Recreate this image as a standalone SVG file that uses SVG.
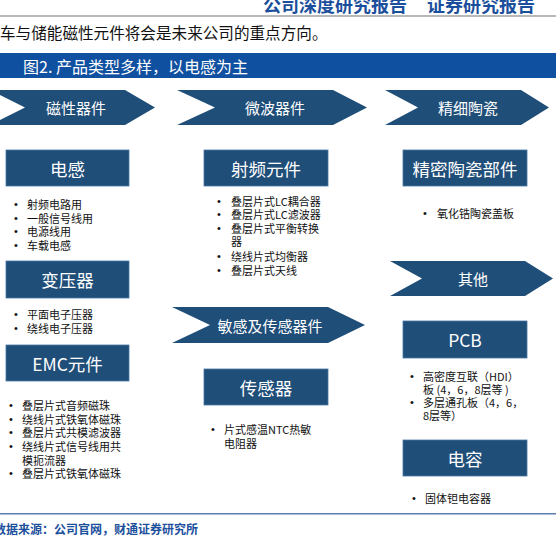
<svg xmlns="http://www.w3.org/2000/svg" width="556" height="544" viewBox="0 0 556 544">
<defs>
<style>
.cjk{font-family:"Noto Sans CJK SC","Noto Sans",sans-serif;}
.chev{fill:#1f4e79;}
.box{fill:#1f4e79;stroke:#4a78a6;stroke-width:0.8;}
.ct{font-family:"Noto Sans CJK SC","Noto Sans",sans-serif;fill:#fff;font-size:15px;text-anchor:middle;dominant-baseline:central;}
.bt{font-family:"Noto Sans CJK SC","Noto Sans",sans-serif;fill:#fff;font-size:17.5px;text-anchor:middle;dominant-baseline:central;}
.li{font-family:"Noto Sans CJK SC","Noto Sans",sans-serif;fill:#111;font-size:11px;dominant-baseline:central;}
.dot{font-family:"Liberation Sans",sans-serif;fill:#111;font-size:11px;dominant-baseline:central;}
</style>
</defs>
<rect width="556" height="544" fill="#fff"/>
<text x="263" y="12" class="cjk" font-size="18" font-weight="bold" fill="#1b4f9c">公司深度研究报告</text>
<text x="427" y="12" class="cjk" font-size="18" font-weight="bold" fill="#1b4f9c">证券研究报告</text>
<rect x="0" y="15" width="556" height="2" fill="#b8b8b8"/>
<text x="0" y="32" class="cjk" font-size="15.6" fill="#111" dominant-baseline="central">车与储能磁性元件将会是未来公司的重点方向。</text>
<rect x="0" y="53" width="556" height="25" fill="#0f50a0"/>
<text x="23" y="66" class="cjk" font-size="16" fill="#fff" dominant-baseline="central">图2. 产品类型多样，以电感为主</text>

<g id="cat-magnetic"><polygon class="chev" points="-10,90 125,90 155,107.5 125,125 -10,125 25,107.5"/><text class="ct" x="76" y="107.5">磁性器件</text></g>
<g id="cat-microwave"><polygon class="chev" points="177,90 333,90 367,107.5 333,125 177,125 215,107.5"/><text class="ct" x="275" y="107.5">微波器件</text></g>
<g id="cat-ceramic"><polygon class="chev" points="385,90 521,90 549,107.5 521,125 385,125 418,107.5"/><text class="ct" x="468" y="107.5">精细陶瓷</text></g>
<g id="cat-sensor"><polygon class="chev" points="172,307 328,307 365,325 328,343 172,343 210,325"/><text class="ct" x="270" y="325">敏感及传感器件</text></g>
<g id="cat-other"><polygon class="chev" points="390,261 525,261 553,278.5 525,296 390,296 422,278.5"/><text class="ct" x="473" y="278.5">其他</text></g>

<g id="inductor"><rect class="box" x="6" y="150" width="123" height="36"/><text class="bt" x="67.5" y="168">电感</text>
<text class="dot" x="14" y="204">•</text><text class="li" x="27" y="204">射频电路用</text>
<text class="dot" x="14" y="217.5">•</text><text class="li" x="27" y="217.5">一般信号线用</text>
<text class="dot" x="14" y="231">•</text><text class="li" x="27" y="231">电源线用</text>
<text class="dot" x="14" y="244.5">•</text><text class="li" x="27" y="244.5">车载电感</text></g>

<g id="transformer"><rect class="box" x="6" y="261" width="123" height="37"/><text class="bt" x="67.5" y="279.5">变压器</text>
<text class="dot" x="14" y="314">•</text><text class="li" x="27" y="314">平面电子压器</text>
<text class="dot" x="14" y="327.5">•</text><text class="li" x="27" y="327.5">绕线电子压器</text></g>

<g id="emc"><rect class="box" x="6" y="345" width="123" height="36"/><text class="bt" x="67.5" y="363">EMC元件</text>
<text class="dot" x="9" y="405">•</text><text class="li" x="22" y="405">叠层片式音频磁珠</text>
<text class="dot" x="9" y="418.5">•</text><text class="li" x="22" y="418.5">绕线片式铁氧体磁珠</text>
<text class="dot" x="9" y="432">•</text><text class="li" x="22" y="432">叠层片式共模滤波器</text>
<text class="dot" x="9" y="446">•</text><text class="li" x="22" y="446">绕线片式信号线用共</text>
<text class="li" x="22" y="459.5">模扼流器</text>
<text class="dot" x="9" y="473">•</text><text class="li" x="22" y="473">叠层片式铁氧体磁珠</text></g>

<g id="rf"><rect class="box" x="204" y="150" width="124" height="36"/><text class="bt" x="266" y="168">射频元件</text>
<text class="dot" x="217" y="201">•</text><text class="li" x="231" y="201">叠层片式LC耦合器</text>
<text class="dot" x="217" y="214">•</text><text class="li" x="231" y="214">叠层片式LC滤波器</text>
<text class="dot" x="217" y="227.5">•</text><text class="li" x="231" y="227.5">叠层片式平衡转换</text>
<text class="li" x="231" y="241">器</text>
<text class="dot" x="217" y="256">•</text><text class="li" x="231" y="256">绕线片式均衡器</text>
<text class="dot" x="217" y="269.5">•</text><text class="li" x="231" y="269.5">叠层片式天线</text></g>

<g id="sensor"><rect class="box" x="204" y="369" width="124" height="36"/><text class="bt" x="266" y="387">传感器</text>
<text class="dot" x="211" y="429">•</text><text class="li" x="224" y="429">片式感温NTC热敏</text>
<text class="li" x="224" y="443">电阻器</text></g>

<g id="ceramic"><rect class="box" x="403" y="150" width="124" height="36"/><text class="bt" x="465" y="168">精密陶瓷部件</text>
<text class="dot" x="423" y="213">•</text><text class="li" x="437" y="213">氧化锆陶瓷盖板</text></g>

<g id="pcb"><rect class="box" x="403" y="321" width="124" height="37"/><text class="bt" x="465" y="339.5">PCB</text>
<text class="dot" x="410" y="376">•</text><text class="li" x="423" y="376">高密度互联（HDI）</text>
<text class="li" x="423" y="389">板 (4，6，8层等 )</text>
<text class="dot" x="410" y="402">•</text><text class="li" x="423" y="402">多层通孔板（4，6，</text>
<text class="li" x="423" y="415">8层等）</text></g>

<g id="capacitor"><rect class="box" x="403" y="440" width="124" height="36"/><text class="bt" x="465" y="458">电容</text>
<text class="dot" x="412" y="498">•</text><text class="li" x="425" y="498">固体钽电容器</text></g>

<g id="connectors"></g>

<rect x="0" y="513" width="556" height="1.5" fill="#5a7fb5"/>
<text x="-6" y="528" class="cjk" font-size="12" font-weight="bold" fill="#1b4f9c" dominant-baseline="central">数据来源：公司官网，财通证券研究所</text>
</svg>
